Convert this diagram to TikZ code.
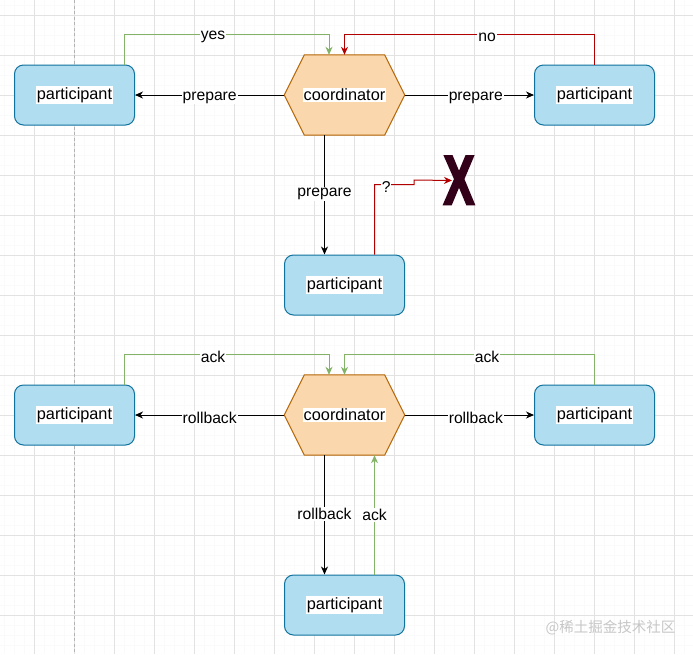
\documentclass[tikz,border=0pt]{standalone}
\usepackage{fontspec}
\setmainfont{Liberation Sans}
\newfontfamily\cjk{Noto Sans CJK SC}
\newfontfamily\xfont[FakeBold=4]{Liberation Sans Bold}
\usetikzlibrary{arrows.meta}
\definecolor{pfill}{HTML}{B1DDF0}
\definecolor{pdraw}{HTML}{10739E}
\definecolor{cfill}{HTML}{FAD7AC}
\definecolor{cdraw}{HTML}{B46504}
\definecolor{gline}{HTML}{82B366}
\definecolor{rline}{HTML}{B20000}
\definecolor{xcol}{HTML}{33001A}
\definecolor{gridmaj}{HTML}{E2E2E2}
\definecolor{gridmin}{HTML}{FAFAFA}
\newcommand{\wbox}[1]{{\setlength{\fboxsep}{1pt}\colorbox{white}{#1}}}
\tikzset{
  part/.style={rectangle, rounded corners=9pt, fill=pfill, draw=pdraw, line width=1pt,
    minimum width=120pt, minimum height=60pt, inner sep=0pt,
    font=\fontsize{16.3}{18}\selectfont},
  hexbase/.style={rectangle, minimum width=120pt, minimum height=80pt, inner sep=0pt},
  hexshape/.style={fill=cfill, draw=cdraw, line width=1pt, line join=round},
  ntext/.style={fill=white, inner sep=1pt, font=\fontsize{16.3}{18}\selectfont},
  lbl/.style={fill=white, inner sep=1pt, yshift=-2.5pt, text=black, font=\fontsize{15.7}{17}\selectfont},
  tip/.style={-{Stealth[length=8pt,width=7pt,inset=2.5pt]}},
  bedge/.style={tip, draw=black, line width=1pt},
  gedge/.style={tip, draw=gline, line width=1pt},
  redge/.style={tip, draw=rline, line width=1pt},
}
\begin{document}
\begin{tikzpicture}[x=1pt,y=-1pt]
\useasboundingbox (0,0) rectangle (693,654);
\fill[white] (0,0) rectangle (693,654);
% grid
\foreach \x in {4.5,14.5,...,693} \draw[gridmin, line width=0.6pt] (\x,0) -- (\x,654);
\foreach \y in {5,15,...,654} \draw[gridmin, line width=0.6pt] (0,\y) -- (693,\y);
\foreach \x in {34.5,74.5,...,693} \draw[gridmaj, line width=0.8pt] (\x,0) -- (\x,654);
\foreach \y in {15,55,...,654} \draw[gridmaj, line width=0.8pt] (0,\y) -- (693,\y);
\draw[black!30, line width=0.8pt, dash pattern=on 3pt off 2.5pt] (74.5,0) -- (74.5,654);

% ---------- group 1 ----------
\node[hexbase] (c1) at (344.5,95) {};
\draw[hexshape] (c1.west) -- ([xshift=20pt]c1.north west) -- ([xshift=-20pt]c1.north east)
  -- (c1.east) -- ([xshift=-20pt]c1.south east) -- ([xshift=20pt]c1.south west) -- cycle;
\node[ntext] (c1t) at (c1) {coordinator};
\node[part] (p1) at (74.5,95) {\wbox{participant}};
\node[part] (p3) at (594.5,95) {\wbox{participant}};
\node[part] (p4) at (344.5,285) {\wbox{participant}};
\node[inner sep=0pt, text=xcol, font=\xfont\fontsize{69}{69}\selectfont] (xx) at (459,180.3) {\scalebox{0.66}[1]{X}};
\coordinate (qend) at (452,180.5);

\draw[bedge] (c1.west) -- node[lbl, pos=0.5]{prepare} (p1.east);
\draw[bedge] (c1.east) -- node[lbl, pos=0.55]{prepare} (p3.west);
\draw[bedge] ([xshift=-20pt]c1.south) -- node[lbl, pos=0.47]{prepare} ([xshift=-20pt]p4.north);
\draw[gedge] ([xshift=50pt]p1.north) -- ++(0,-30) -- node[lbl, pos=0.433]{yes} ++(204.5,0) -- ([xshift=-15.5pt]c1.north);
\draw[redge] (p3.north) -- ++(0,-30) -- node[lbl, pos=0.43]{no} ++(-250,0) -- (c1.north);
\draw[redge] ([xshift=30pt]p4.north) -- ++(0,-70) -- node[lbl, pos=0.3, inner sep=0.5pt]{?} ++(39.5,0) -- ++(0,-4.5) -- (qend);

% ---------- group 2 ----------
\node[hexbase] (c2) at (344.5,415) {};
\draw[hexshape] (c2.west) -- ([xshift=20pt]c2.north west) -- ([xshift=-20pt]c2.north east)
  -- (c2.east) -- ([xshift=-20pt]c2.south east) -- ([xshift=20pt]c2.south west) -- cycle;
\node[ntext] (c2t) at (c2) {coordinator};
\node[part] (p5) at (74.5,415) {\wbox{participant}};
\node[part] (p7) at (594.5,415) {\wbox{participant}};
\node[part] (p8) at (344.5,605) {\wbox{participant}};

\draw[bedge] (c2.west) -- node[lbl, pos=0.5]{rollback} (p5.east);
\draw[bedge] (c2.east) -- node[lbl, pos=0.55]{rollback} (p7.west);
\draw[bedge] ([xshift=-20pt]c2.south) -- node[lbl, pos=0.47]{rollback} ([xshift=-20pt]p8.north);
\draw[gedge] ([xshift=30pt]p8.north) -- node[lbl, pos=0.52]{ack} ([xshift=30pt]c2.south);
\draw[gedge] ([xshift=50pt]p5.north) -- ++(0,-30) -- node[lbl, pos=0.433]{ack} ++(204.5,0) -- ([xshift=-15.5pt]c2.north);
\draw[gedge] (p7.north) -- ++(0,-30) -- node[lbl, pos=0.43]{ack} ++(-250,0) -- (c2.north);

% watermark
\node[text=black!22, font=\cjk\fontsize{14.5}{15}\selectfont, inner sep=0pt] (wm) at (610.5,628) {@稀土掘金技术社区};
\end{tikzpicture}
\end{document}
